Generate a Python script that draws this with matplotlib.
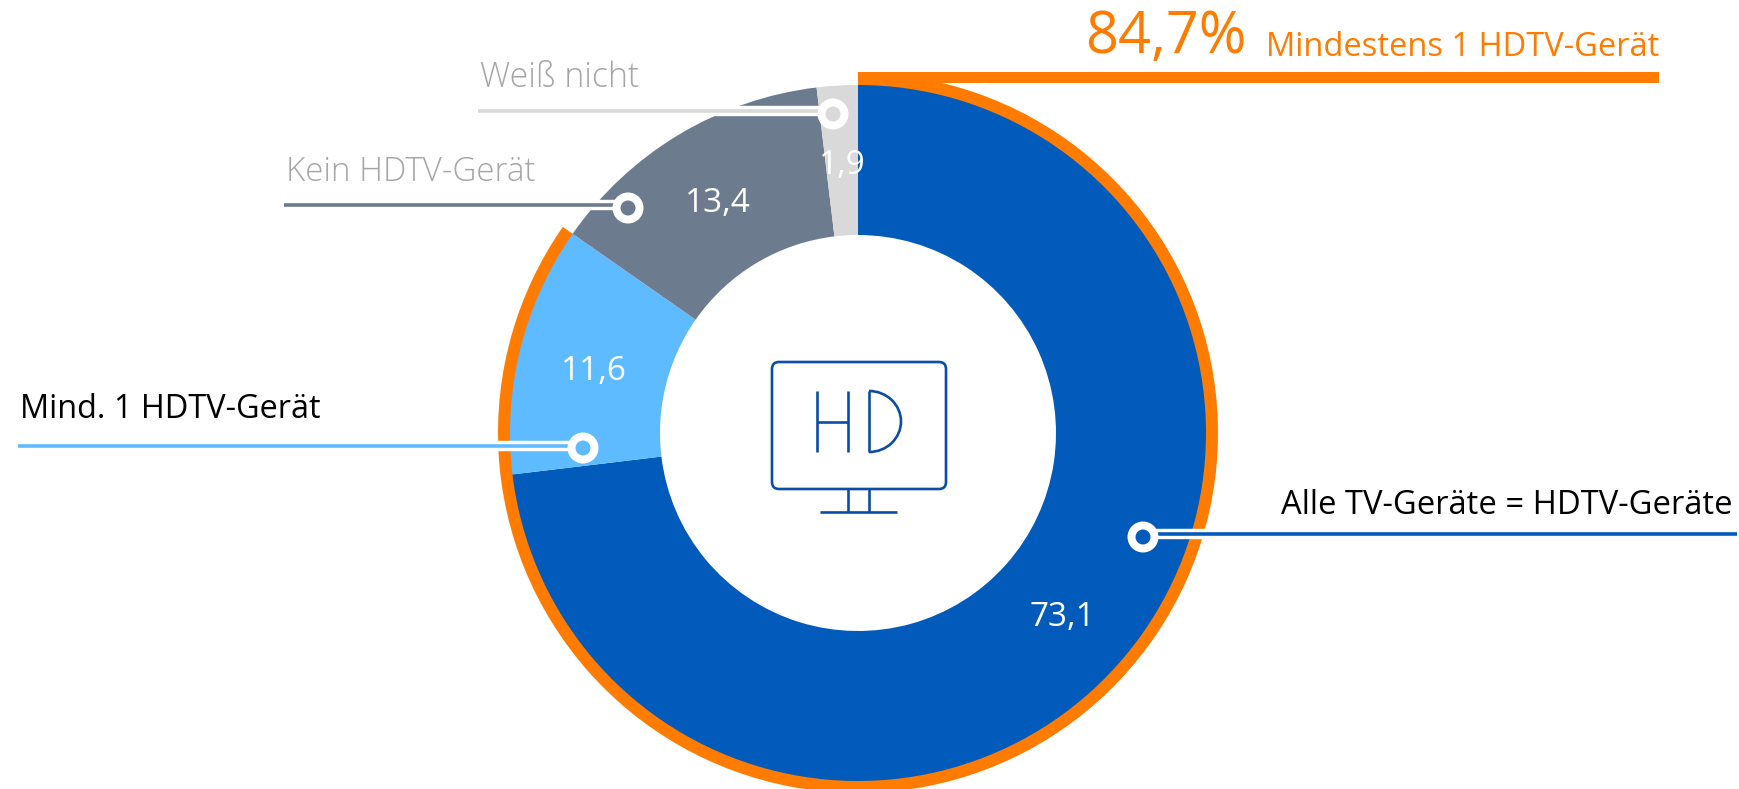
import matplotlib
matplotlib.use('Agg')
from matplotlib import pyplot as plt
from matplotlib.patches import Arc, Circle, FancyBboxPatch

plt.rcParams['font.family'] = ['Open Sans', 'DejaVu Sans']

W, H = 1740, 789

categories = ['Alle TV-Geräte = HDTV-Geräte', 'Mind. 1 HDTV-Gerät', 'Kein HDTV-Gerät', 'Weiß nicht']
values = [73.1, 11.6, 13.4, 1.9]
value_labels = ['73,1', '11,6', '13,4', '1,9']
hdtv_total = 84.7
hdtv_total_label = '84,7%'
hdtv_total_text = 'Mindestens 1 HDTV-Gerät'

colors = ['#025BBA', '#5FBBFF', '#6C7B8E', '#D9D9D9']
orange = '#FF7C00'
icon_blue = '#0B4DA2'

fig = plt.figure(figsize=(W / 100, H / 100), dpi=100)
ax = fig.add_axes([0, 0, 1, 1])


def Y(py):
    # pixel rows count from the top, the axes from the bottom
    return H - py


cx, cy = 858, Y(433)

# orange ring under the donut, only over the HDTV share
ax.pie([hdtv_total, 100 - hdtv_total], colors=[orange, 'none'], center=(cx, cy), radius=360,
       startangle=90, counterclock=False, wedgeprops={'width': 14, 'linewidth': 0})
ax.pie(values, colors=colors, center=(cx, cy), radius=348,
       startangle=90, counterclock=False, wedgeprops={'width': 150, 'linewidth': 0})

ax.set_xlim(0, W)
ax.set_ylim(0, H)
ax.set_aspect('equal')
ax.axis('off')

# bar from the ring to the total
ax.fill_between([858, 1659], Y(72), Y(83), color=orange, linewidth=0, zorder=3)

# leader lines: x start, x end, line row, dot x, dot y
leaders = [
    (1737, 1143, 533.5, 1143, 537),
    (18, 583, 445.5, 583, 448),
    (284, 628, 205, 628, 208),
    (478, 833, 111, 833, 114),
]
for (x0, x1, ly, dx, dy), c in zip(leaders, colors):
    ax.plot([x0, x1], [Y(ly), Y(ly)], color='white', lw=7.5, solid_capstyle='butt', zorder=4)
    ax.plot([x0, x1], [Y(ly), Y(ly)], color=c, lw=2.6, solid_capstyle='butt', zorder=5)
    ax.add_patch(Circle((dx, Y(dy)), 15.5, color='white', lw=0, zorder=6))
    ax.add_patch(Circle((dx, Y(dy)), 7.5, color=c, lw=0, zorder=7))

# value labels
value_pos = [(1062, 617), (594, 372), (718, 203), (842, 165)]
for (x, y), s in zip(value_pos, value_labels):
    ax.text(x, Y(y), s, color='white', fontsize=24, ha='center', va='center', zorder=8)

# category labels
ax.text(1733, Y(505), categories[0], color='black', fontsize=23.6, ha='right', va='center')
ax.text(20, Y(409), categories[1], color='black', fontsize=23.4, ha='left', va='center')
ax.text(286, Y(172), categories[2], color='#A6A6A6', fontsize=23.9, ha='left', va='center', fontweight='light')
ax.text(480, Y(78), categories[3], color='#A6A6A6', fontsize=24.4, ha='left', va='center', fontweight='light')

ax.text(1085, Y(38), hdtv_total_label, color=orange, fontsize=41.5, ha='left', va='center')
ax.text(1659, Y(47), hdtv_total_text, color=orange, fontsize=23.5, ha='right', va='center')

# HD monitor icon in the hole
icon = {'color': icon_blue, 'lw': 1.9, 'solid_capstyle': 'butt', 'zorder': 3}
ax.add_patch(FancyBboxPatch((779, Y(482)), 160, 113, boxstyle='round,pad=7,rounding_size=7',
                            fc='none', ec=icon_blue, lw=1.9, zorder=3))
ax.plot([817, 817], [Y(391), Y(452)], **icon)
ax.plot([848, 848], [Y(391), Y(452)], **icon)
ax.plot([817, 848], [Y(422), Y(422)], **icon)
ax.plot([869, 869], [Y(391), Y(452)], **icon)
ax.add_patch(Arc((869, Y(421.5)), 64, 61, theta1=-90, theta2=90, color=icon_blue, lw=1.9, zorder=3))
ax.plot([848, 848], [Y(489), Y(512)], **icon)
ax.plot([869, 869], [Y(489), Y(512)], **icon)
ax.plot([820, 897], [Y(512), Y(512)], **icon)

fig.savefig('out.png', dpi=100)
